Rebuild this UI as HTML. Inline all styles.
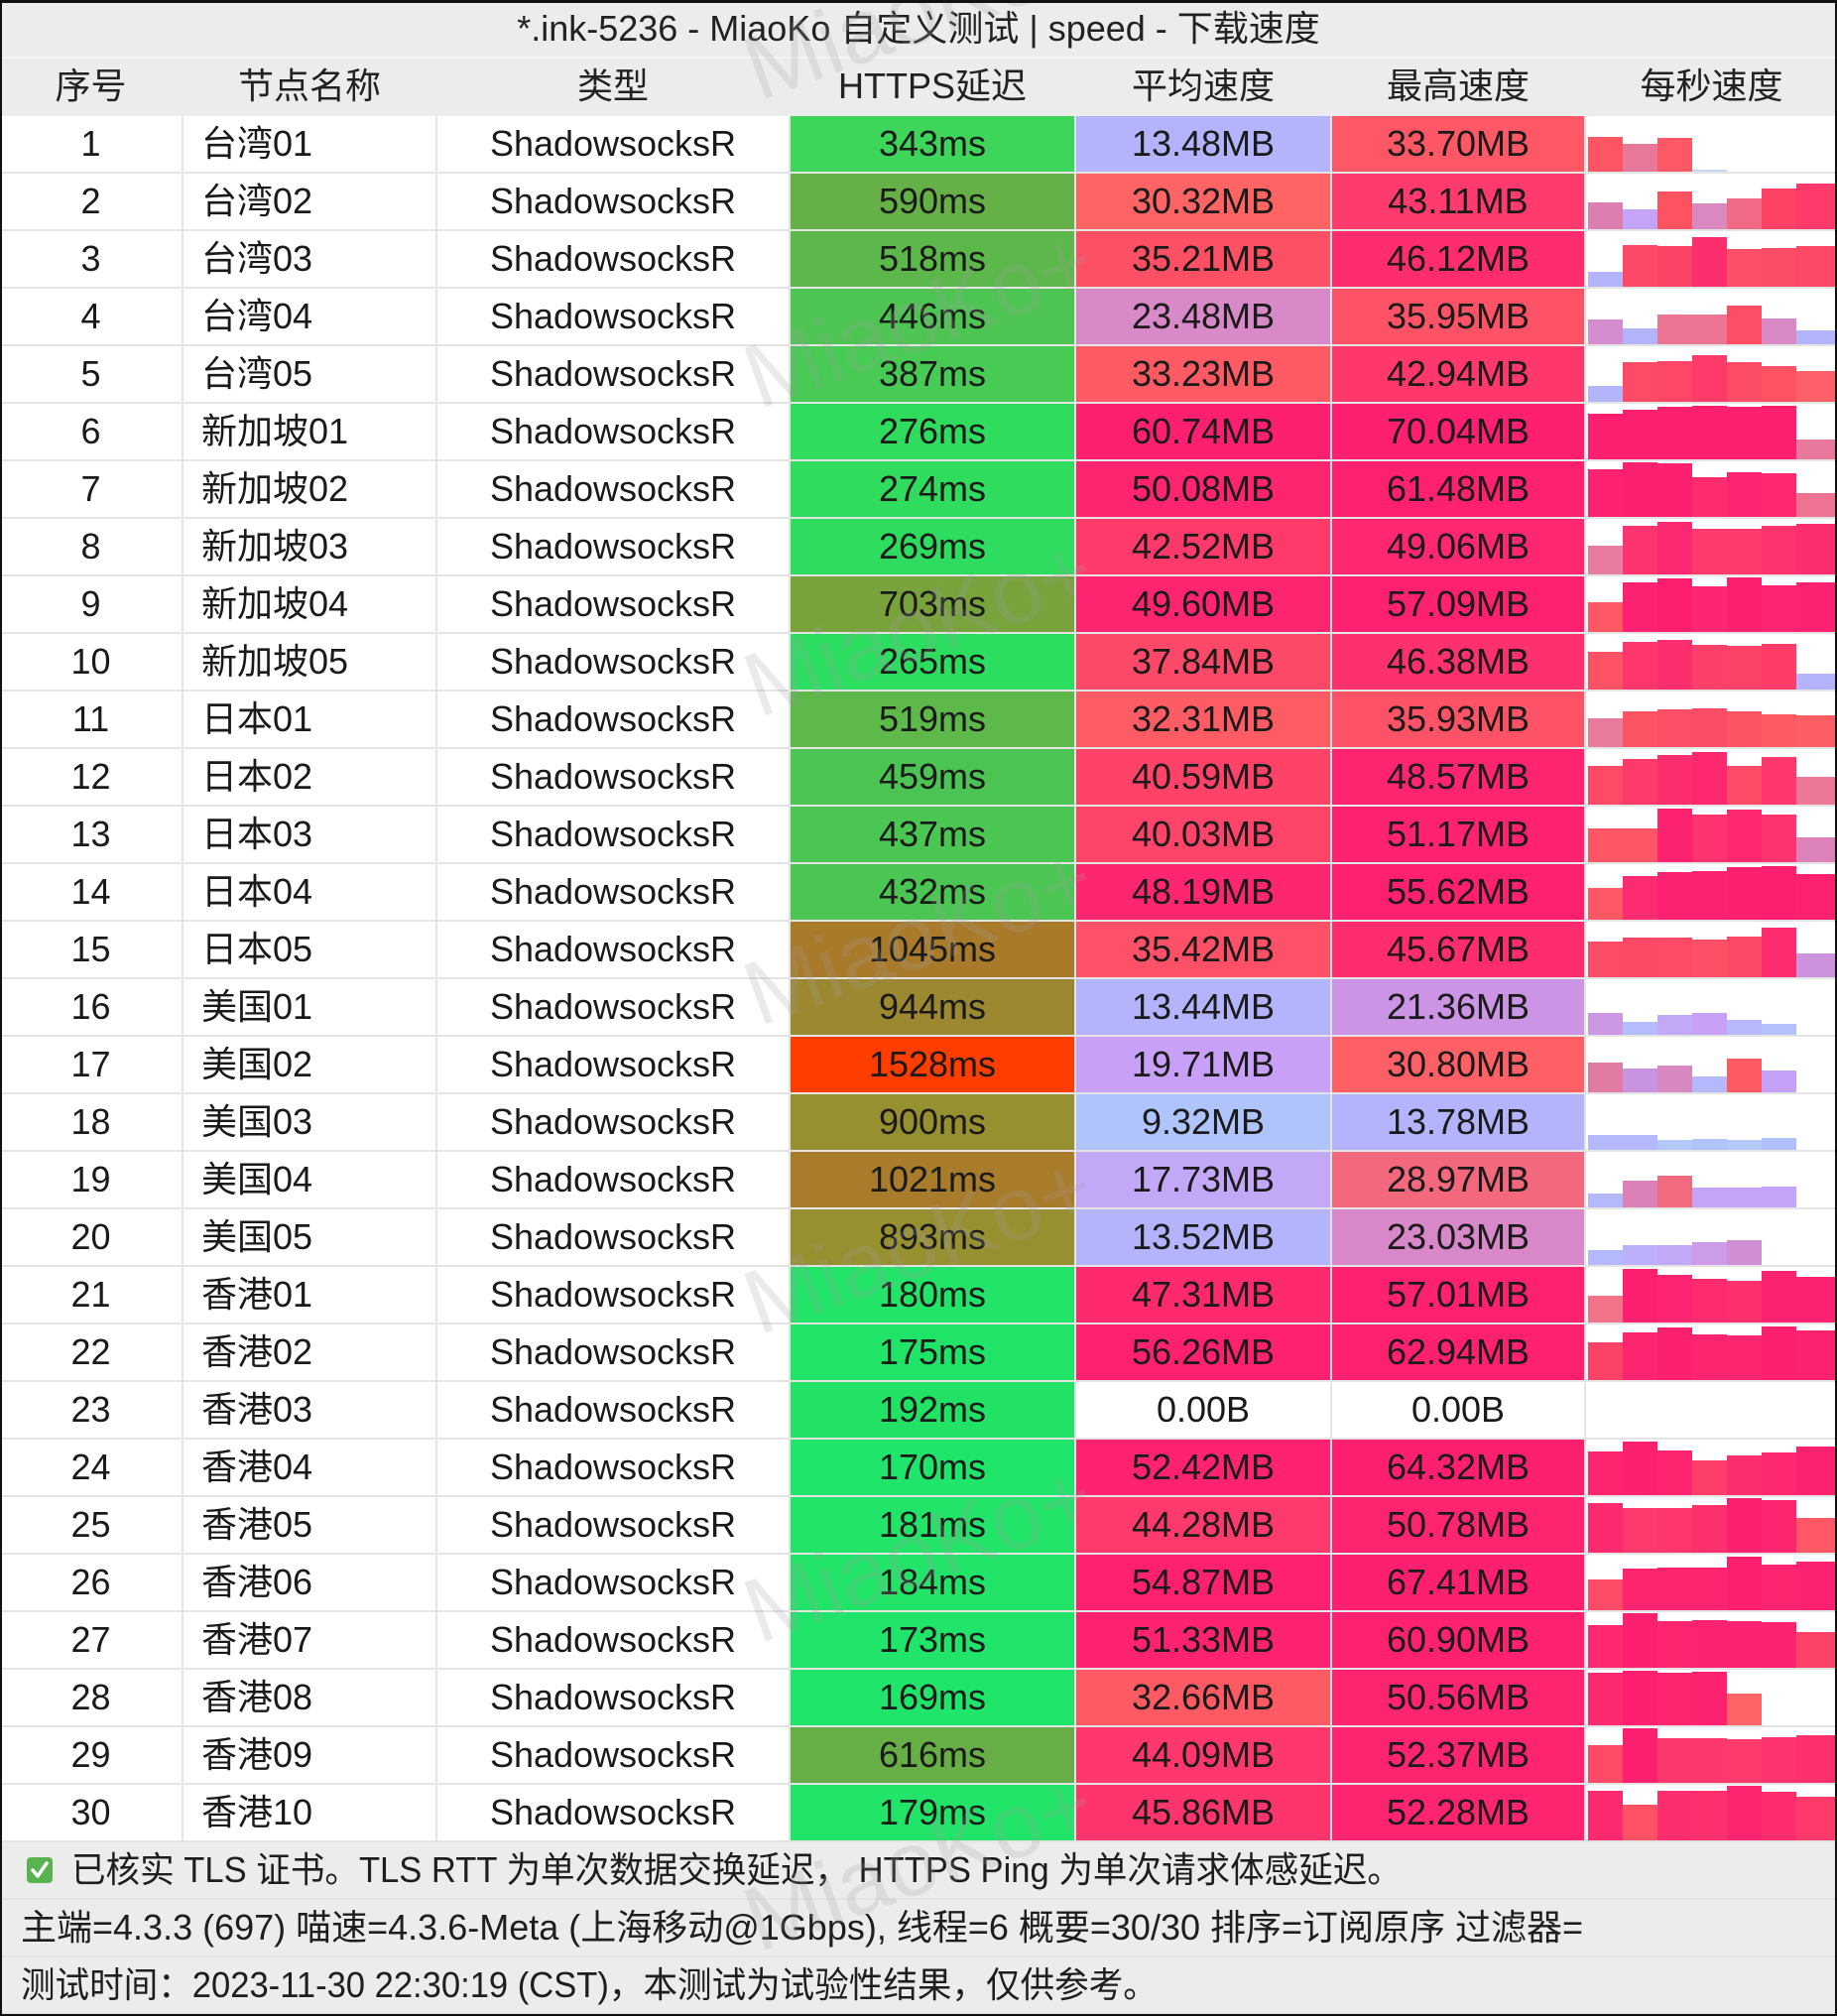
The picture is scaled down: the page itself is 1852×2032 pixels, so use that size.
<!DOCTYPE html>
<html><head><meta charset="utf-8">
<style>
*{margin:0;padding:0;box-sizing:border-box}
html,body{width:1852px;height:2032px;overflow:hidden}
body{position:relative;background:#e4e4e4;font-family:"Liberation Sans","Noto Sans CJK SC",sans-serif;color:#1a1a1a}
.hd{position:absolute;left:0;top:0;width:1852px;height:117px;background:#ececec}
.ttl{position:absolute;left:0;top:0;width:1852px;height:57px;line-height:58px;text-align:center;font-size:36px;color:#222}
.hl{position:absolute;left:0;top:57px;width:1852px;height:2px;background:#f4f4f4}
.hr{position:absolute;top:59px;height:57px;line-height:56px;text-align:center;font-size:36px;color:#222}
.r{position:absolute;left:0;width:1852px;height:56px}
.c{position:absolute;top:0;height:56px;line-height:56px;text-align:center;font-size:36px;white-space:nowrap;overflow:hidden;background:#fff}
.c1{left:0;width:183px}
.c2{left:185px;width:254px;text-align:left;padding-left:18px}
.c3{left:441px;width:354px}
.c4{left:797px;width:286px}
.c5{left:1085px;width:256px}
.c6{left:1343px;width:254px}
.c7{left:1599px;width:253px}
.s{position:absolute;bottom:0;width:35px;display:block}
.b0{left:2px}.b1{left:37px}.b2{left:72px}.b3{left:107px}.b4{left:142px}.b5{left:177px}.b6{left:212px;width:41px}
.f{position:absolute;left:0;width:1852px;height:56px;background:#ececec;line-height:56px;font-size:36px;white-space:nowrap;padding-left:21px;color:#1e1e1e}
.sq{display:inline-block;transform:scaleX(0.96);transform-origin:0 50%}
.chk{position:absolute;left:27px;top:15px;width:26px;height:26px;background:#58b450;border-radius:4px}
.chk svg{display:block}
.frame{position:absolute;left:0;top:0;width:1852px;height:2032px;border-style:solid;border-color:#111;border-width:3px 2px 2px 2px;pointer-events:none}
svg.wm{position:absolute;left:0;top:0;pointer-events:none}
</style></head><body>

<div class="hd">
<div class="ttl">*.ink-5236 - MiaoKo 自定义测试 | speed - 下载速度</div>
<div class="hl"></div>
<div class="hr" style="left:0;width:183px">序号</div>
<div class="hr" style="left:185px;width:254px">节点名称</div>
<div class="hr" style="left:441px;width:354px">类型</div>
<div class="hr" style="left:797px;width:286px">HTTPS延迟</div>
<div class="hr" style="left:1085px;width:256px">平均速度</div>
<div class="hr" style="left:1343px;width:254px">最高速度</div>
<div class="hr" style="left:1599px;width:253px">每秒速度</div>
</div>

<div class="r" style="top:117px"><div class="c c1">1</div><div class="c c2">台湾01</div><div class="c c3">ShadowsocksR</div><div class="c c4" style="background:#3dd55a">343ms</div><div class="c c5" style="background:#b4b4fc">13.48MB</div><div class="c c6" style="background:#fe5866">33.70MB</div><div class="c c7"><i class="s b0" style="height:35px;background:#fd5563"></i><i class="s b1" style="height:28px;background:#e8789a"></i><i class="s b2" style="height:34px;background:#fd5865"></i><i class="s b3" style="height:2px;background:#c8d8f0"></i></div></div>

<div class="r" style="top:175px"><div class="c c1">2</div><div class="c c2">台湾02</div><div class="c c3">ShadowsocksR</div><div class="c c4" style="background:#66b048">590ms</div><div class="c c5" style="background:#fe6464">30.32MB</div><div class="c c6" style="background:#ff3a6c">43.11MB</div><div class="c c7"><i class="s b0" style="height:27px;background:#dc7fb0"></i><i class="s b1" style="height:20px;background:#c4a4f8"></i><i class="s b2" style="height:38px;background:#fd5260"></i><i class="s b3" style="height:26px;background:#d988c0"></i><i class="s b4" style="height:31px;background:#f06a86"></i><i class="s b5" style="height:41px;background:#fd4266"></i><i class="s b6" style="height:46px;background:#fd3a6a"></i></div></div>

<div class="r" style="top:233px"><div class="c c1">3</div><div class="c c2">台湾03</div><div class="c c3">ShadowsocksR</div><div class="c c4" style="background:#5cb84a">518ms</div><div class="c c5" style="background:#fe5064">35.21MB</div><div class="c c6" style="background:#ff2c6e">46.12MB</div><div class="c c7"><i class="s b0" style="height:15px;background:#b4b4fc"></i><i class="s b1" style="height:42px;background:#fd4868"></i><i class="s b2" style="height:41px;background:#fd4468"></i><i class="s b3" style="height:50px;background:#fd2e6e"></i><i class="s b4" style="height:38px;background:#fd5066"></i><i class="s b5" style="height:39px;background:#fd4c66"></i><i class="s b6" style="height:41px;background:#fd4868"></i></div></div>

<div class="r" style="top:291px"><div class="c c1">4</div><div class="c c2">台湾04</div><div class="c c3">ShadowsocksR</div><div class="c c4" style="background:#4ec452">446ms</div><div class="c c5" style="background:#d889c8">23.48MB</div><div class="c c6" style="background:#fe5266">35.95MB</div><div class="c c7"><i class="s b0" style="height:25px;background:#d48ed0"></i><i class="s b1" style="height:16px;background:#b4b4fc"></i><i class="s b2" style="height:30px;background:#ee7494"></i><i class="s b3" style="height:30px;background:#ee7494"></i><i class="s b4" style="height:39px;background:#fd4e66"></i><i class="s b5" style="height:26px;background:#d889c4"></i><i class="s b6" style="height:14px;background:#b4b4fc"></i></div></div>

<div class="r" style="top:349px"><div class="c c1">5</div><div class="c c2">台湾05</div><div class="c c3">ShadowsocksR</div><div class="c c4" style="background:#47cb55">387ms</div><div class="c c5" style="background:#fe5a64">33.23MB</div><div class="c c6" style="background:#ff386c">42.94MB</div><div class="c c7"><i class="s b0" style="height:16px;background:#b4b4fc"></i><i class="s b1" style="height:40px;background:#fd4a66"></i><i class="s b2" style="height:41px;background:#fd4668"></i><i class="s b3" style="height:47px;background:#fd3a6a"></i><i class="s b4" style="height:40px;background:#fd4c66"></i><i class="s b5" style="height:36px;background:#fd5262"></i><i class="s b6" style="height:31px;background:#fd6068"></i></div></div>

<div class="r" style="top:407px"><div class="c c1">6</div><div class="c c2">新加坡01</div><div class="c c3">ShadowsocksR</div><div class="c c4" style="background:#2fdc5e">276ms</div><div class="c c5" style="background:#ff1f70">60.74MB</div><div class="c c6" style="background:#ff1f70">70.04MB</div><div class="c c7"><i class="s b0" style="height:46px;background:#fd2070"></i><i class="s b1" style="height:50px;background:#fd2070"></i><i class="s b2" style="height:53px;background:#fd2070"></i><i class="s b3" style="height:54px;background:#fd1f70"></i><i class="s b4" style="height:53px;background:#fd2070"></i><i class="s b5" style="height:54px;background:#fd2070"></i><i class="s b6" style="height:20px;background:#e8789c"></i></div></div>

<div class="r" style="top:465px"><div class="c c1">7</div><div class="c c2">新加坡02</div><div class="c c3">ShadowsocksR</div><div class="c c4" style="background:#2fdc5e">274ms</div><div class="c c5" style="background:#ff2470">50.08MB</div><div class="c c6" style="background:#ff2070">61.48MB</div><div class="c c7"><i class="s b0" style="height:48px;background:#fd2272"></i><i class="s b1" style="height:55px;background:#fd2070"></i><i class="s b2" style="height:54px;background:#fd2070"></i><i class="s b3" style="height:40px;background:#fd2c6c"></i><i class="s b4" style="height:45px;background:#fd2472"></i><i class="s b5" style="height:44px;background:#fd2870"></i><i class="s b6" style="height:24px;background:#ee7292"></i></div></div>

<div class="r" style="top:523px"><div class="c c1">8</div><div class="c c2">新加坡03</div><div class="c c3">ShadowsocksR</div><div class="c c4" style="background:#2edd5f">269ms</div><div class="c c5" style="background:#fe3a6a">42.52MB</div><div class="c c6" style="background:#ff2870">49.06MB</div><div class="c c7"><i class="s b0" style="height:29px;background:#e87ba0"></i><i class="s b1" style="height:49px;background:#fd3470"></i><i class="s b2" style="height:53px;background:#fd2872"></i><i class="s b3" style="height:46px;background:#fd3a6c"></i><i class="s b4" style="height:46px;background:#fd3a6c"></i><i class="s b5" style="height:49px;background:#fd346e"></i><i class="s b6" style="height:51px;background:#fd2e6e"></i></div></div>

<div class="r" style="top:581px"><div class="c c1">9</div><div class="c c2">新加坡04</div><div class="c c3">ShadowsocksR</div><div class="c c4" style="background:#78a23c">703ms</div><div class="c c5" style="background:#ff2470">49.60MB</div><div class="c c6" style="background:#ff2070">57.09MB</div><div class="c c7"><i class="s b0" style="height:30px;background:#fd5864"></i><i class="s b1" style="height:50px;background:#fd2272"></i><i class="s b2" style="height:54px;background:#fd1e70"></i><i class="s b3" style="height:46px;background:#fd2672"></i><i class="s b4" style="height:55px;background:#fd2070"></i><i class="s b5" style="height:47px;background:#fd2472"></i><i class="s b6" style="height:50px;background:#fd2272"></i></div></div>

<div class="r" style="top:639px"><div class="c c1">10</div><div class="c c2">新加坡05</div><div class="c c3">ShadowsocksR</div><div class="c c4" style="background:#2cde60">265ms</div><div class="c c5" style="background:#fe4868">37.84MB</div><div class="c c6" style="background:#ff306e">46.38MB</div><div class="c c7"><i class="s b0" style="height:38px;background:#fd5264"></i><i class="s b1" style="height:48px;background:#fd366c"></i><i class="s b2" style="height:50px;background:#fd2e6e"></i><i class="s b3" style="height:45px;background:#fd406a"></i><i class="s b4" style="height:44px;background:#fd426a"></i><i class="s b5" style="height:46px;background:#fd3c6a"></i><i class="s b6" style="height:16px;background:#b4b4fc"></i></div></div>

<div class="r" style="top:697px"><div class="c c1">11</div><div class="c c2">日本01</div><div class="c c3">ShadowsocksR</div><div class="c c4" style="background:#5cb94a">519ms</div><div class="c c5" style="background:#fe5c64">32.31MB</div><div class="c c6" style="background:#fe5266">35.93MB</div><div class="c c7"><i class="s b0" style="height:29px;background:#e87b9c"></i><i class="s b1" style="height:36px;background:#fd5464"></i><i class="s b2" style="height:38px;background:#fd4e66"></i><i class="s b3" style="height:39px;background:#fd4c66"></i><i class="s b4" style="height:36px;background:#fd5464"></i><i class="s b5" style="height:33px;background:#fd5a64"></i><i class="s b6" style="height:32px;background:#fd5e64"></i></div></div>

<div class="r" style="top:755px"><div class="c c1">12</div><div class="c c2">日本02</div><div class="c c3">ShadowsocksR</div><div class="c c4" style="background:#4cc453">459ms</div><div class="c c5" style="background:#fe4268">40.59MB</div><div class="c c6" style="background:#ff2470">48.57MB</div><div class="c c7"><i class="s b0" style="height:39px;background:#fd4a66"></i><i class="s b1" style="height:46px;background:#fd3a6a"></i><i class="s b2" style="height:50px;background:#fd2e6e"></i><i class="s b3" style="height:53px;background:#fd2870"></i><i class="s b4" style="height:39px;background:#fd4a66"></i><i class="s b5" style="height:48px;background:#fd366c"></i><i class="s b6" style="height:28px;background:#ec7896"></i></div></div>

<div class="r" style="top:813px"><div class="c c1">13</div><div class="c c2">日本03</div><div class="c c3">ShadowsocksR</div><div class="c c4" style="background:#4cc653">437ms</div><div class="c c5" style="background:#fe4468">40.03MB</div><div class="c c6" style="background:#ff2270">51.17MB</div><div class="c c7"><i class="s b0" style="height:34px;background:#fd5664"></i><i class="s b1" style="height:34px;background:#fd5664"></i><i class="s b2" style="height:54px;background:#fd2270"></i><i class="s b3" style="height:48px;background:#fd3470"></i><i class="s b4" style="height:53px;background:#fd2870"></i><i class="s b5" style="height:48px;background:#fd3470"></i><i class="s b6" style="height:25px;background:#dc82b8"></i></div></div>

<div class="r" style="top:871px"><div class="c c1">14</div><div class="c c2">日本04</div><div class="c c3">ShadowsocksR</div><div class="c c4" style="background:#4bc653">432ms</div><div class="c c5" style="background:#ff2670">48.19MB</div><div class="c c6" style="background:#ff2070">55.62MB</div><div class="c c7"><i class="s b0" style="height:32px;background:#fd5864"></i><i class="s b1" style="height:44px;background:#fd2c70"></i><i class="s b2" style="height:48px;background:#fd2272"></i><i class="s b3" style="height:49px;background:#fd2272"></i><i class="s b4" style="height:53px;background:#fd2070"></i><i class="s b5" style="height:54px;background:#fd1e70"></i><i class="s b6" style="height:46px;background:#fd2270"></i></div></div>

<div class="r" style="top:929px"><div class="c c1">15</div><div class="c c2">日本05</div><div class="c c3">ShadowsocksR</div><div class="c c4" style="background:#a97a2a">1045ms</div><div class="c c5" style="background:#fe5066">35.42MB</div><div class="c c6" style="background:#ff2c6e">45.67MB</div><div class="c c7"><i class="s b0" style="height:36px;background:#fd4c66"></i><i class="s b1" style="height:40px;background:#fd4866"></i><i class="s b2" style="height:40px;background:#fd4a66"></i><i class="s b3" style="height:38px;background:#fd5066"></i><i class="s b4" style="height:41px;background:#fd4868"></i><i class="s b5" style="height:50px;background:#fd2c6e"></i><i class="s b6" style="height:24px;background:#cc92dc"></i></div></div>

<div class="r" style="top:987px"><div class="c c1">16</div><div class="c c2">美国01</div><div class="c c3">ShadowsocksR</div><div class="c c4" style="background:#9c8830">944ms</div><div class="c c5" style="background:#b4b4fc">13.44MB</div><div class="c c6" style="background:#cc94e4">21.36MB</div><div class="c c7"><i class="s b0" style="height:22px;background:#cc98e4"></i><i class="s b1" style="height:13px;background:#b4bcfc"></i><i class="s b2" style="height:20px;background:#c4a8f8"></i><i class="s b3" style="height:22px;background:#c8a0f8"></i><i class="s b4" style="height:15px;background:#b8b8fc"></i><i class="s b5" style="height:11px;background:#b4c0fc"></i></div></div>

<div class="r" style="top:1045px"><div class="c c1">17</div><div class="c c2">美国02</div><div class="c c3">ShadowsocksR</div><div class="c c4" style="background:#ff3d00">1528ms</div><div class="c c5" style="background:#c8a0f8">19.71MB</div><div class="c c6" style="background:#fe6066">30.80MB</div><div class="c c7"><i class="s b0" style="height:30px;background:#e07ca4"></i><i class="s b1" style="height:24px;background:#c894e0"></i><i class="s b2" style="height:27px;background:#d888c0"></i><i class="s b3" style="height:16px;background:#b4b8fc"></i><i class="s b4" style="height:34px;background:#fd5a62"></i><i class="s b5" style="height:22px;background:#c4a0f8"></i></div></div>

<div class="r" style="top:1103px"><div class="c c1">18</div><div class="c c2">美国03</div><div class="c c3">ShadowsocksR</div><div class="c c4" style="background:#979030">900ms</div><div class="c c5" style="background:#b0c4fc">9.32MB</div><div class="c c6" style="background:#b4b4fc">13.78MB</div><div class="c c7"><i class="s b0" style="height:15px;background:#b4b8fc"></i><i class="s b1" style="height:15px;background:#b4b8fc"></i><i class="s b2" style="height:10px;background:#b4c8fc"></i><i class="s b3" style="height:11px;background:#b0c4fc"></i><i class="s b4" style="height:10px;background:#b4c8fc"></i><i class="s b5" style="height:12px;background:#b0c0fc"></i></div></div>

<div class="r" style="top:1161px"><div class="c c1">19</div><div class="c c2">美国04</div><div class="c c3">ShadowsocksR</div><div class="c c4" style="background:#a87c2a">1021ms</div><div class="c c5" style="background:#c4a8f8">17.73MB</div><div class="c c6" style="background:#f4687e">28.97MB</div><div class="c c7"><i class="s b0" style="height:14px;background:#b4b8fc"></i><i class="s b1" style="height:27px;background:#dc80b8"></i><i class="s b2" style="height:32px;background:#f26a7e"></i><i class="s b3" style="height:20px;background:#c4a4f8"></i><i class="s b4" style="height:20px;background:#c4a4f8"></i><i class="s b5" style="height:21px;background:#c4a4f8"></i></div></div>

<div class="r" style="top:1219px"><div class="c c1">20</div><div class="c c2">美国05</div><div class="c c3">ShadowsocksR</div><div class="c c4" style="background:#979030">893ms</div><div class="c c5" style="background:#b4b4fc">13.52MB</div><div class="c c6" style="background:#d888c8">23.03MB</div><div class="c c7"><i class="s b0" style="height:15px;background:#b4b8fc"></i><i class="s b1" style="height:20px;background:#bcb0fc"></i><i class="s b2" style="height:20px;background:#c4a8f8"></i><i class="s b3" style="height:23px;background:#cc9ce8"></i><i class="s b4" style="height:25px;background:#d08ed4"></i></div></div>

<div class="r" style="top:1277px"><div class="c c1">21</div><div class="c c2">香港01</div><div class="c c3">ShadowsocksR</div><div class="c c4" style="background:#22e468">180ms</div><div class="c c5" style="background:#ff2a6e">47.31MB</div><div class="c c6" style="background:#ff2070">57.01MB</div><div class="c c7"><i class="s b0" style="height:27px;background:#f2728a"></i><i class="s b1" style="height:54px;background:#fd2070"></i><i class="s b2" style="height:48px;background:#fd2472"></i><i class="s b3" style="height:44px;background:#fd2c6e"></i><i class="s b4" style="height:42px;background:#fd306e"></i><i class="s b5" style="height:52px;background:#fd2272"></i><i class="s b6" style="height:46px;background:#fd2272"></i></div></div>

<div class="r" style="top:1335px"><div class="c c1">22</div><div class="c c2">香港02</div><div class="c c3">ShadowsocksR</div><div class="c c4" style="background:#20e468">175ms</div><div class="c c5" style="background:#ff2070">56.26MB</div><div class="c c6" style="background:#ff2070">62.94MB</div><div class="c c7"><i class="s b0" style="height:38px;background:#fd4268"></i><i class="s b1" style="height:48px;background:#fd2470"></i><i class="s b2" style="height:53px;background:#fd2070"></i><i class="s b3" style="height:46px;background:#fd2470"></i><i class="s b4" style="height:45px;background:#fd2670"></i><i class="s b5" style="height:54px;background:#fd2070"></i><i class="s b6" style="height:50px;background:#fd2270"></i></div></div>

<div class="r" style="top:1393px"><div class="c c1">23</div><div class="c c2">香港03</div><div class="c c3">ShadowsocksR</div><div class="c c4" style="background:#22e266">192ms</div><div class="c c5">0.00B</div><div class="c c6">0.00B</div><div class="c c7"></div></div>

<div class="r" style="top:1451px"><div class="c c1">24</div><div class="c c2">香港04</div><div class="c c3">ShadowsocksR</div><div class="c c4" style="background:#1fe66a">170ms</div><div class="c c5" style="background:#ff2270">52.42MB</div><div class="c c6" style="background:#ff1f70">64.32MB</div><div class="c c7"><i class="s b0" style="height:44px;background:#fd2470"></i><i class="s b1" style="height:54px;background:#fd2070"></i><i class="s b2" style="height:45px;background:#fd2470"></i><i class="s b3" style="height:35px;background:#fd3e6a"></i><i class="s b4" style="height:40px;background:#fd2e6e"></i><i class="s b5" style="height:43px;background:#fd2870"></i><i class="s b6" style="height:49px;background:#fd2270"></i></div></div>

<div class="r" style="top:1509px"><div class="c c1">25</div><div class="c c2">香港05</div><div class="c c3">ShadowsocksR</div><div class="c c4" style="background:#22e468">181ms</div><div class="c c5" style="background:#fe3a6c">44.28MB</div><div class="c c6" style="background:#ff2470">50.78MB</div><div class="c c7"><i class="s b0" style="height:50px;background:#fd2a70"></i><i class="s b1" style="height:45px;background:#fd3a6c"></i><i class="s b2" style="height:45px;background:#fd366c"></i><i class="s b3" style="height:48px;background:#fd306e"></i><i class="s b4" style="height:55px;background:#fd2070"></i><i class="s b5" style="height:53px;background:#fd2470"></i><i class="s b6" style="height:35px;background:#fd5864"></i></div></div>

<div class="r" style="top:1567px"><div class="c c1">26</div><div class="c c2">香港06</div><div class="c c3">ShadowsocksR</div><div class="c c4" style="background:#22e468">184ms</div><div class="c c5" style="background:#ff2070">54.87MB</div><div class="c c6" style="background:#ff1f70">67.41MB</div><div class="c c7"><i class="s b0" style="height:31px;background:#fd4c68"></i><i class="s b1" style="height:42px;background:#fd2470"></i><i class="s b2" style="height:43px;background:#fd2470"></i><i class="s b3" style="height:43px;background:#fd2470"></i><i class="s b4" style="height:54px;background:#fd2070"></i><i class="s b5" style="height:46px;background:#fd2470"></i><i class="s b6" style="height:49px;background:#fd2272"></i></div></div>

<div class="r" style="top:1625px"><div class="c c1">27</div><div class="c c2">香港07</div><div class="c c3">ShadowsocksR</div><div class="c c4" style="background:#20e56a">173ms</div><div class="c c5" style="background:#ff2270">51.33MB</div><div class="c c6" style="background:#ff2070">60.90MB</div><div class="c c7"><i class="s b0" style="height:43px;background:#fd2870"></i><i class="s b1" style="height:55px;background:#fd2070"></i><i class="s b2" style="height:47px;background:#fd2470"></i><i class="s b3" style="height:48px;background:#fd2272"></i><i class="s b4" style="height:47px;background:#fd2272"></i><i class="s b5" style="height:46px;background:#fd2270"></i><i class="s b6" style="height:36px;background:#fd4268"></i></div></div>

<div class="r" style="top:1683px"><div class="c c1">28</div><div class="c c2">香港08</div><div class="c c3">ShadowsocksR</div><div class="c c4" style="background:#1fe66a">169ms</div><div class="c c5" style="background:#fe5a64">32.66MB</div><div class="c c6" style="background:#ff2470">50.56MB</div><div class="c c7"><i class="s b0" style="height:53px;background:#fd2a70"></i><i class="s b1" style="height:55px;background:#fd2070"></i><i class="s b2" style="height:53px;background:#fd2470"></i><i class="s b3" style="height:54px;background:#fd2270"></i><i class="s b4" style="height:32px;background:#fd6466"></i></div></div>

<div class="r" style="top:1741px"><div class="c c1">29</div><div class="c c2">香港09</div><div class="c c3">ShadowsocksR</div><div class="c c4" style="background:#68ae46">616ms</div><div class="c c5" style="background:#fe386c">44.09MB</div><div class="c c6" style="background:#ff2470">52.37MB</div><div class="c c7"><i class="s b0" style="height:38px;background:#fd4a66"></i><i class="s b1" style="height:55px;background:#fd2070"></i><i class="s b2" style="height:45px;background:#fd386c"></i><i class="s b3" style="height:45px;background:#fd386c"></i><i class="s b4" style="height:44px;background:#fd3a6c"></i><i class="s b5" style="height:46px;background:#fd346e"></i><i class="s b6" style="height:48px;background:#fd306e"></i></div></div>

<div class="r" style="top:1799px"><div class="c c1">30</div><div class="c c2">香港10</div><div class="c c3">ShadowsocksR</div><div class="c c4" style="background:#21e468">179ms</div><div class="c c5" style="background:#fe346c">45.86MB</div><div class="c c6" style="background:#ff2470">52.28MB</div><div class="c c7"><i class="s b0" style="height:50px;background:#fd2a70"></i><i class="s b1" style="height:36px;background:#fd5264"></i><i class="s b2" style="height:50px;background:#fd2e6e"></i><i class="s b3" style="height:50px;background:#fd306e"></i><i class="s b4" style="height:55px;background:#fd2470"></i><i class="s b5" style="height:49px;background:#fd2c6e"></i><i class="s b6" style="height:44px;background:#fd3a6a"></i></div></div>

<div class="f" style="top:1857px;padding-left:72px"><div class="chk"><svg width="26" height="26" viewBox="0 0 26 26"><polyline points="6,13 11,19 20,6" fill="none" stroke="#ffffff" stroke-width="3.5" stroke-linecap="round" stroke-linejoin="round"/></svg></div><span class="sq">已核实 TLS 证书。TLS RTT 为单次数据交换延迟， HTTPS Ping 为单次请求体感延迟。</span></div>
<div class="f" style="top:1915px">主端=4.3.3 (697) 喵速=4.3.6-Meta (上海移动@1Gbps), 线程=6 概要=30/30 排序=订阅原序 过滤器=</div>
<div class="f" style="top:1973px"><span class="sq">测试时间：2023-11-30 22:30:19 (CST)，本测试为试验性结果，仅供参考。</span></div>

<svg class="wm" width="1852" height="2032" viewBox="0 0 1852 2032">
<g font-family="Liberation Sans, sans-serif" font-size="92" fill="rgba(160,160,160,0.22)">
<text x="765" y="102" transform="rotate(-20 765 102)">MiaoKo+</text>
<text x="765" y="413" transform="rotate(-20 765 413)">MiaoKo+</text>
<text x="765" y="724" transform="rotate(-20 765 724)">MiaoKo+</text>
<text x="765" y="1035" transform="rotate(-20 765 1035)">MiaoKo+</text>
<text x="765" y="1346" transform="rotate(-20 765 1346)">MiaoKo+</text>
<text x="765" y="1657" transform="rotate(-20 765 1657)">MiaoKo+</text>
<text x="765" y="1968" transform="rotate(-20 765 1968)">MiaoKo+</text>
</g>
</svg>

<div class="frame"></div>
</body></html>
